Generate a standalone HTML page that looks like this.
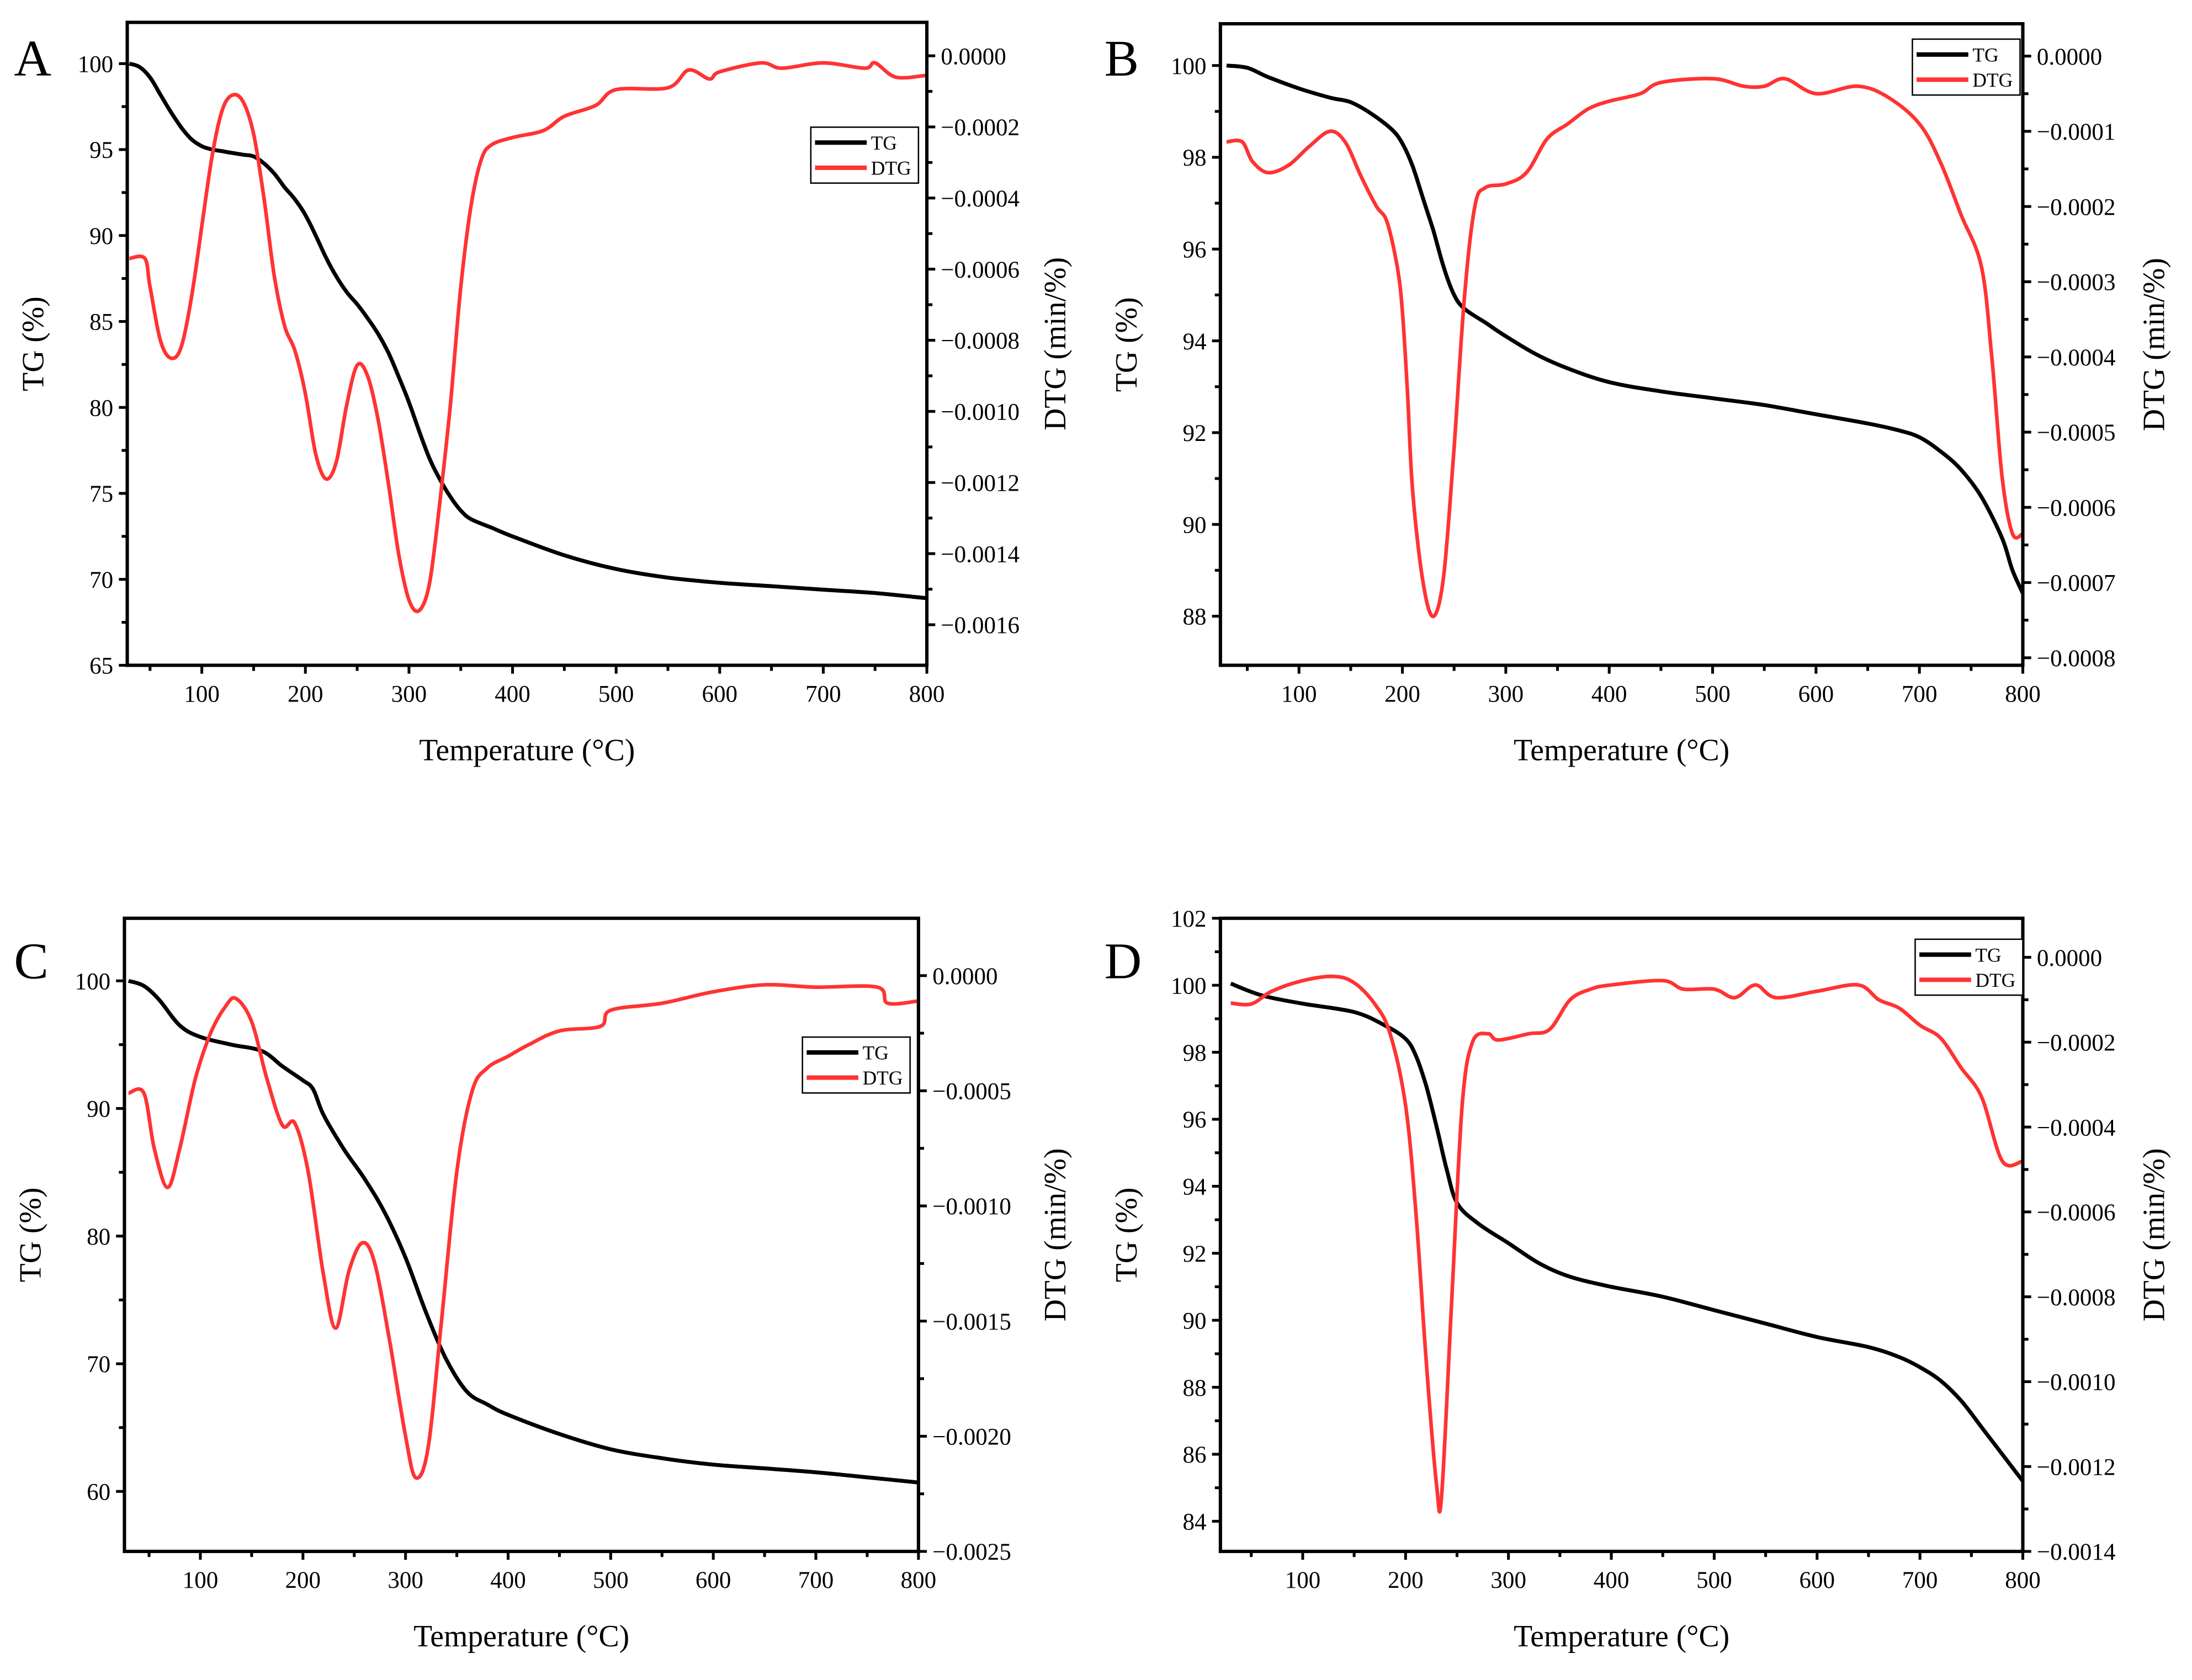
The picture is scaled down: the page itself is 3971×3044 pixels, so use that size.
<!DOCTYPE html>
<html><head><meta charset="utf-8"><style>
html,body{margin:0;padding:0;background:#fff;}
svg{display:block;}
text{font-family:"Liberation Serif",serif;fill:#000;}
</style></head><body>
<svg id="fig" width="3971" height="3044" viewBox="0 0 1568 1202" xmlns="http://www.w3.org/2000/svg">
<rect x="0" y="0" width="1568" height="1202" fill="#fff"/>
</svg>
<script>
// ---- Panel A data ----
const aTgX = [30,40,50,60,70,80,90,100,110,120,130,140,150,160,170,180,190,200,210,220,230,240,250,260,270,280,290,300,310,320,330,340,350,360,380,400,450,500,550,600,650,700,750,800];
const aTgY = [100,99.8,99.2,98.2,97.2,96.3,95.6,95.2,95.0,94.9,94.8,94.7,94.6,94.2,93.6,92.8,92.1,91.2,90.0,88.7,87.6,86.7,86.0,85.2,84.3,83.2,81.8,80.3,78.6,77.0,75.8,74.8,74.0,73.5,73.0,72.5,71.4,70.6,70.1,69.8,69.6,69.4,69.2,68.9];
const aDtgX = [30,45,50,60,70,80,90,100,110,120,130,140,150,160,170,180,190,200,210,220,230,240,250,260,270,280,290,300,310,320,330,340,350,360,370,380,400,430,450,480,500,550,570,590,600,640,660,700,740,750,770,800];
const aDtgY = [-5.7,-5.7,-6.5,-8.0,-8.5,-8.2,-6.8,-4.8,-2.8,-1.5,-1.1,-1.3,-2.2,-4.0,-6.2,-7.6,-8.3,-9.5,-11.2,-11.9,-11.4,-9.8,-8.7,-9.0,-10.2,-12.0,-14.0,-15.3,-15.6,-14.8,-12.5,-9.8,-6.5,-4.2,-2.9,-2.5,-2.3,-2.1,-1.7,-1.4,-0.95,-0.9,-0.4,-0.65,-0.45,-0.2,-0.35,-0.2,-0.35,-0.2,-0.6,-0.55];
// ---- Panel B data ----
const bTgX = [30,50,70,100,130,150,170,190,200,210,220,230,240,250,260,280,300,330,360,400,450,500,550,600,650,680,700,720,740,760,780,790,800];
const bTgY = [100,99.95,99.75,99.5,99.3,99.2,98.95,98.6,98.3,97.8,97.1,96.4,95.6,95.0,94.7,94.4,94.1,93.7,93.4,93.1,92.9,92.75,92.6,92.4,92.2,92.05,91.9,91.6,91.2,90.6,89.7,89.0,88.5];
const bDtgX = [30,45,55,70,90,110,130,145,160,175,185,195,200,205,210,220,230,240,250,260,270,280,300,320,340,360,380,400,430,450,500,530,550,570,600,640,670,700,720,740,760,770,780,790,800];
const bDtgY = [-1.14,-1.14,-1.4,-1.55,-1.45,-1.2,-1.0,-1.15,-1.6,-2.0,-2.2,-2.8,-3.4,-4.5,-5.8,-7.0,-7.45,-6.9,-5.2,-3.2,-2.0,-1.75,-1.7,-1.55,-1.1,-0.9,-0.7,-0.6,-0.5,-0.35,-0.3,-0.4,-0.4,-0.3,-0.5,-0.4,-0.55,-0.9,-1.4,-2.1,-2.8,-4.0,-5.6,-6.35,-6.35];
// ---- Panel C data ----
const cTgX = [30,45,60,80,100,130,160,180,200,210,220,240,260,280,300,320,340,360,380,400,450,500,550,600,650,700,750,800];
const cTgY = [100,99.6,98.5,96.5,95.6,95,94.5,93.3,92.2,91.5,89.5,86.8,84.5,81.8,78.3,74.0,70.3,67.8,66.8,66.0,64.5,63.3,62.6,62.1,61.8,61.5,61.1,60.7];
const cDtgX = [30,45,55,68,80,95,110,125,135,150,165,180,192,205,220,232,245,258,270,285,300,310,322,335,350,365,380,400,420,450,490,500,550,600,650,700,760,770,800];
const cDtgY = [-5.1,-5.1,-7.5,-9.2,-7.5,-4.5,-2.5,-1.3,-1.0,-2.0,-4.5,-6.5,-6.4,-8.5,-13.0,-15.3,-12.8,-11.6,-12.5,-16.0,-20.0,-21.8,-20.5,-15.0,-8.5,-5.0,-4.0,-3.5,-3.0,-2.4,-2.2,-1.5,-1.2,-0.7,-0.4,-0.5,-0.5,-1.2,-1.1];
// ---- Panel D data ----
const dTgX = [30,60,100,150,180,200,210,220,230,240,250,270,300,330,360,400,450,500,550,600,650,680,700,720,740,760,780,800];
const dTgY = [100.05,99.7,99.45,99.2,98.8,98.4,97.9,97.0,95.8,94.5,93.5,92.9,92.3,91.7,91.3,91.0,90.7,90.3,89.9,89.5,89.2,88.9,88.6,88.2,87.6,86.8,86.0,85.2];
const dDtgX = [30,50,70,100,130,150,170,185,200,210,220,230,235,245,255,265,280,290,320,340,360,380,400,450,470,500,520,540,560,600,640,660,680,700,720,740,760,780,800];
const dDtgY = [-1.08,-1.1,-0.8,-0.55,-0.45,-0.6,-1.1,-1.8,-3.5,-6.0,-9.5,-12.4,-12.7,-8,-3.5,-2.0,-1.8,-1.95,-1.8,-1.7,-1.0,-0.75,-0.65,-0.55,-0.75,-0.75,-0.95,-0.65,-0.95,-0.8,-0.65,-1.0,-1.2,-1.6,-1.9,-2.6,-3.3,-4.8,-4.8];
// ---- tick labels ----
const xTicks = [100,200,300,400,500,600,700,800];
const aTgTicks = [65,70,75,80,85,90,95,100];
const bTgTicks = [88,90,92,94,96,98,100];
const cTgTicks = [60,70,80,90,100];
const dTgTicks = [84,86,88,90,92,94,96,98,100,102];
const aDtgTicks = [0,-2,-4,-6,-8,-10,-12,-14,-16];
const bDtgTicks = [0,-1,-2,-3,-4,-5,-6,-7,-8];
const cDtgTicks = [0,-5,-10,-15,-20,-25];
const dDtgTicks = [0,-2,-4,-6,-8,-10,-12,-14];

const NS = "http://www.w3.org/2000/svg";
const svg = document.getElementById('fig');
function mk(tag, attrs, parent){const e=document.createElementNS(NS,tag);for(const k in attrs)e.setAttribute(k,attrs[k]);(parent||svg).appendChild(e);return e;}
function smooth(pts){
  let d='M'+pts[0][0].toFixed(1)+','+pts[0][1].toFixed(1);
  for(let i=0;i<pts.length-1;i++){
    const p0=pts[i-1]||pts[i], p1=pts[i], p2=pts[i+1], p3=pts[i+2]||p2;
    const c1=[p1[0]+(p2[0]-p0[0])/6, p1[1]+(p2[1]-p0[1])/6];
    const c2=[p2[0]-(p3[0]-p1[0])/6, p2[1]-(p3[1]-p1[1])/6];
    d+=' C'+c1[0].toFixed(1)+','+c1[1].toFixed(1)+' '+c2[0].toFixed(1)+','+c2[1].toFixed(1)+' '+p2[0].toFixed(1)+','+p2[1].toFixed(1);
  }
  return d;
}

const panels = [
 {id:'a',letter:'A',lx:10,ly:54,L:91,R:663,T:16,B:476,x0:28,x1:800,tg0:65,tg1:102.4,d0:-17.14,d1:0.94,tgT:aTgTicks,dT:aDtgTicks,tgStep:2.5,dMinor:1,tgX:aTgX,tgY:aTgY,dX:aDtgX,dY:aDtgY,leg:[580,91],dtgTitleX:762},
 {id:'b',letter:'B',lx:790,ly:54,L:873,R:1447,T:17,B:476,x0:24,x1:800,tg0:86.93,tg1:100.91,d0:-8.1,d1:0.43,tgT:bTgTicks,dT:bDtgTicks,tgStep:1,dMinor:0.5,tgX:bTgX,tgY:bTgY,dX:bDtgX,dY:bDtgY,leg:[1368,28],dtgTitleX:1548},
 {id:'c',letter:'C',lx:10,ly:700,L:89,R:657,T:657,B:1110,x0:26,x1:800,tg0:55.3,tg1:104.9,d0:-25,d1:2.49,tgT:cTgTicks,dT:cDtgTicks,tgStep:5,dMinor:2.5,tgX:cTgX,tgY:cTgY,dX:cDtgX,dY:cDtgY,leg:[574,742],dtgTitleX:762},
 {id:'d',letter:'D',lx:790,ly:700,L:873,R:1447,T:657,B:1110,x0:20,x1:800,tg0:83.1,tg1:102,d0:-14,d1:0.92,tgT:dTgTicks,dT:dDtgTicks,tgStep:1,dMinor:1,tgX:dTgX,tgY:dTgY,dX:dDtgX,dY:dDtgY,leg:[1370,672],dtgTitleX:1548}
];

panels.forEach(p=>{
  const g = mk('g',{});
  
  
  const sx = v => p.L + (v-p.x0)/(p.x1-p.x0)*(p.R-p.L);
  const sy = v => p.B - (v-p.tg0)/(p.tg1-p.tg0)*(p.B-p.T);
  const sd = v => p.B - (v-p.d0)/(p.d1-p.d0)*(p.B-p.T);
  const lt = mk('text',{x:p.lx,y:p.ly,'font-size':37},g); lt.textContent=p.letter;
  
  
  const tgl = mk('path',{d:smooth(p.tgX.map((x,i)=>[sx(x),sy(p.tgY[i])])),fill:'none',stroke:'#000','stroke-width':2.8,'stroke-linejoin':'round'},g);
  
  
  const dl = mk('path',{d:smooth(p.dX.map((x,i)=>[sx(x),sd(p.dY[i])])),fill:'none',stroke:'#ff3333','stroke-width':2.6,'stroke-linejoin':'round'},g);
  
  
  const fr = mk('rect',{x:p.L,y:p.T,width:p.R-p.L,height:p.B-p.T,fill:'none',stroke:'#000','stroke-width':2.4},g);
  
  
  for(let v=50; v<=800; v+=50){
    const major = v%100===0;
    mk('line',{x1:sx(v),x2:sx(v),y1:p.B,y2:p.B+(major?6:4),stroke:'#000','stroke-width':2},g);
  }
  xTicks.forEach(v=>{
    const t = mk('text',{x:sx(v),y:p.B+26,'font-size':17,'text-anchor':'middle'},g); t.textContent=v;
    
    
  });
  for(let v=p.tgT[0]; v<=p.tg1; v+=p.tgStep){
    const major = p.tgT.some(m=>Math.abs(m-v)<1e-6);
    if(v<p.tg0) continue;
    mk('line',{x1:p.L,x2:p.L-(major?6:4),y1:sy(v),y2:sy(v),stroke:'#000','stroke-width':2},g);
  }
  p.tgT.forEach(v=>{
    const t = mk('text',{x:p.L-10,y:sy(v)+6,'font-size':17,'text-anchor':'end'},g); t.textContent=v;
    
    
  });
  for(let v=p.dT[p.dT.length-1]; v<=p.d1; v+=p.dMinor){
    const major = p.dT.some(m=>Math.abs(m-v)<1e-6);
    mk('line',{x1:p.R,x2:p.R+(major?6:4),y1:sd(v),y2:sd(v),stroke:'#000','stroke-width':2},g);
  }
  p.dT.forEach(v=>{
    const s = v===0 ? '0.0000' : '\u2212'+(Math.abs(v)*1e-4).toFixed(4);
    const t = mk('text',{x:p.R+10,y:sd(v)+6,'font-size':17,'text-anchor':'start'},g); t.textContent=s;
    
    
  });
  const xt = mk('text',{x:(p.L+p.R)/2,y:p.B+68,'font-size':22,'text-anchor':'middle'},g); xt.textContent='Temperature (°C)';
  
  
  const ym=(p.T+p.B)/2;
  const yt = mk('text',{x:0,y:0,'font-size':22,'text-anchor':'middle',transform:`translate(${p.L-60},${ym}) rotate(-90)`},g); yt.textContent='TG (%)';
  
  
  const dt = mk('text',{x:0,y:0,'font-size':22,'text-anchor':'middle',transform:`translate(${p.dtgTitleX},${ym}) rotate(-90)`},g); dt.textContent='DTG (min/%)';
  
  
  const [lx,ly]=p.leg;
  const lg = mk('g',{},g);
  
  
  mk('rect',{x:lx,y:ly,width:77,height:40,fill:'#fff',stroke:'#000','stroke-width':1},lg);
  mk('line',{x1:lx+3,x2:lx+40,y1:ly+11,y2:ly+11,stroke:'#000','stroke-width':3.2},lg);
  mk('line',{x1:lx+3,x2:lx+40,y1:ly+29,y2:ly+29,stroke:'#ff3333','stroke-width':3.2},lg);
  const t1 = mk('text',{x:lx+43,y:ly+16,'font-size':14},lg); t1.textContent='TG';
  
  
  const t2 = mk('text',{x:lx+43,y:ly+34,'font-size':14},lg); t2.textContent='DTG';
  
  
});
</script>
</body></html>
